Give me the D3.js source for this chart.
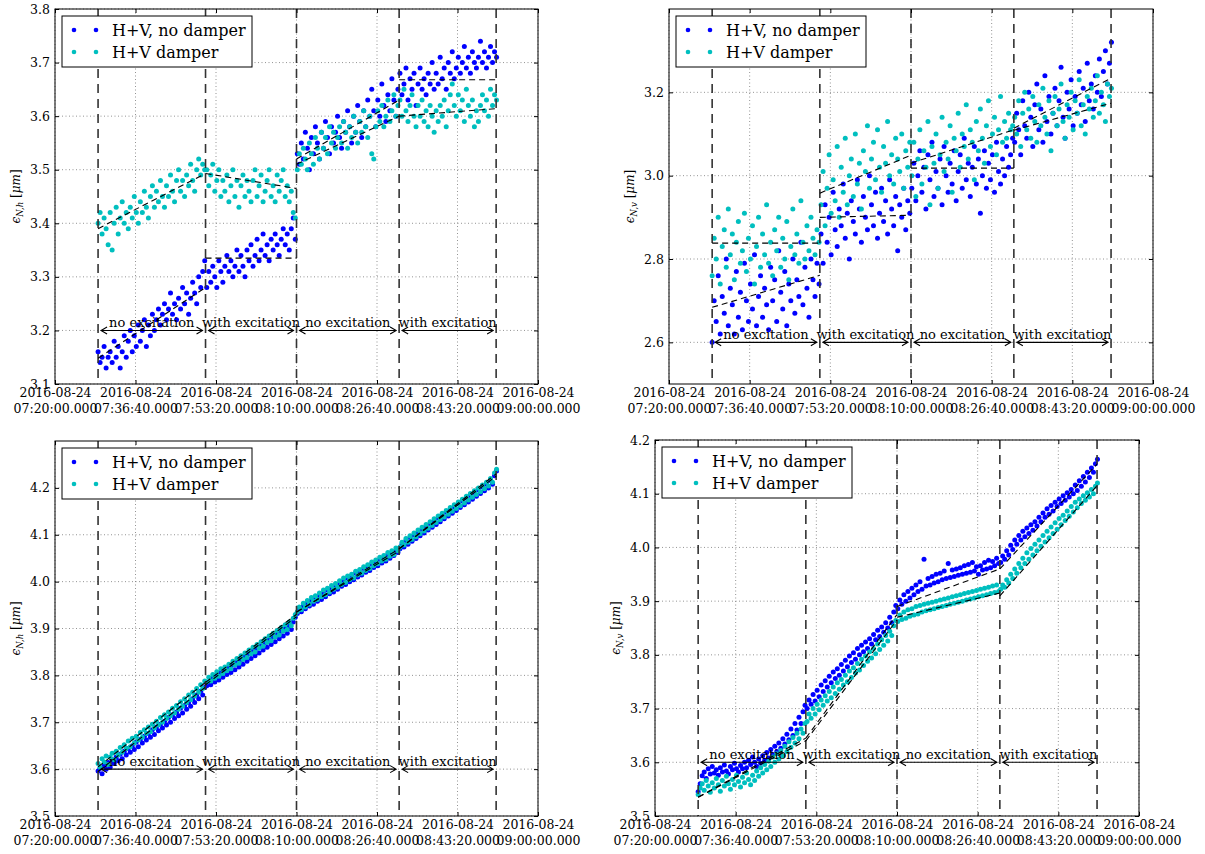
<!DOCTYPE html>
<html>
<head>
<meta charset="utf-8">
<script src="https://cdn.jsdelivr.net/npm/d3@7"></script>
<style>
body { margin: 0; background: #fff; }
svg text { font-family: "DejaVu Serif", serif; fill: #000; }
</style>
</head>
<body>
<svg id="fig" width="1205" height="854"></svg>
<script>
// time axis: seconds after 07:20:00
var startTime = new Date(2016, 7, 24, 7, 20, 0);
var endTime = new Date(2016, 7, 24, 9, 0, 0);
var tickSeconds = [0, 1000, 2000, 3000, 4000, 5000, 6000];
var sampleStart = 535, sampleStep = 25;
var segmentEdges = [535, 1870, 3000, 4275, 5480];
var segmentLabels = ["no excitation", "with excitation", "no excitation", "with excitation"];
var seriesNames = ["H+V, no damper", "H+V damper"];

// top left, emittance N,h
var tlNoDamper = [3.16,3.14,3.15,3.17,3.13,3.15,3.16,3.14,3.18,3.15,3.17,3.13,3.16,3.19,3.15,3.18,3.20,3.16,3.19,3.17,
  3.21,3.18,3.20,3.22,3.17,3.21,3.19,3.23,3.20,3.22,3.24,3.21,3.23,3.25,3.22,3.24,3.27,3.23,3.25,3.22,
  3.26,3.24,3.28,3.25,3.27,3.23,3.26,3.29,3.27,3.25,3.30,3.28,3.31,3.33,
  3.28,3.31,3.29,3.32,3.30,3.28,3.33,3.31,3.29,3.32,3.34,3.31,3.33,3.30,3.32,3.35,3.31,3.34,3.32,3.30,
  3.35,3.33,3.36,3.32,3.34,3.37,3.33,3.35,3.38,3.34,3.36,3.33,3.37,3.35,3.38,3.36,3.34,3.37,3.39,3.36,
  3.38,3.35,3.39,3.41,3.37,
  3.53,3.51,3.55,3.52,3.57,3.54,3.50,3.56,3.53,3.58,3.55,3.52,3.57,3.54,3.59,3.56,3.53,3.58,3.55,3.57,
  3.60,3.56,3.54,3.59,3.57,3.61,3.58,3.55,3.60,3.57,3.62,3.59,3.56,3.61,3.58,3.63,3.60,3.65,3.61,3.58,
  3.63,3.60,3.66,3.62,3.59,3.64,3.61,3.67,3.63,3.60,3.65,
  3.68,3.64,3.66,3.69,3.63,3.67,3.65,3.68,3.62,3.66,3.69,3.65,3.67,3.64,3.68,3.66,3.70,3.65,3.68,3.66,
  3.71,3.67,3.69,3.65,3.70,3.68,3.72,3.67,3.69,3.71,3.68,3.70,3.73,3.69,3.71,3.68,3.72,3.70,3.69,3.71,
  3.74,3.70,3.72,3.69,3.71,3.73,3.70,3.72,3.71];
var tlDamper = [3.40,3.42,3.38,3.41,3.39,3.36,3.42,3.35,3.40,3.43,3.38,3.41,3.44,3.40,3.42,3.39,3.43,3.41,3.45,3.42,
  3.40,3.44,3.42,3.46,3.43,3.41,3.45,3.47,3.43,3.46,3.44,3.48,3.45,3.43,3.47,3.45,3.49,3.46,3.44,3.48,
  3.50,3.46,3.48,3.45,3.49,3.47,3.51,3.48,3.46,3.50,3.52,3.49,3.51,3.50,
  3.50,3.47,3.49,3.51,3.46,3.48,3.50,3.45,3.48,3.46,3.49,3.44,3.47,3.50,3.45,3.48,3.43,3.47,3.49,3.45,
  3.48,3.46,3.44,3.48,3.50,3.45,3.47,3.49,3.44,3.46,3.48,3.50,3.45,3.47,3.44,3.49,3.46,3.48,3.50,3.45,
  3.47,3.44,3.46,3.42,3.41,
  3.50,3.53,3.51,3.54,3.52,3.50,3.55,3.53,3.51,3.56,3.54,3.52,3.57,3.54,3.56,3.53,3.58,3.55,3.57,3.54,
  3.56,3.58,3.55,3.59,3.57,3.54,3.58,3.56,3.60,3.57,3.55,3.59,3.57,3.61,3.58,3.56,3.60,3.53,3.52,3.58,
  3.61,3.59,3.62,3.58,3.60,3.63,3.59,3.61,3.64,3.60,3.62,
  3.63,3.60,3.65,3.61,3.59,3.62,3.64,3.60,3.58,3.62,3.60,3.63,3.59,3.61,3.58,3.62,3.60,3.57,3.61,3.59,
  3.62,3.60,3.63,3.58,3.61,3.64,3.66,3.62,3.60,3.64,3.61,3.63,3.59,3.65,3.62,3.60,3.63,3.58,3.61,3.59,
  3.62,3.64,3.61,3.63,3.60,3.65,3.62,3.64,3.63];
var tlFitNoDamper = [[3.148, 3.28], [3.335, 3.335], [3.52, 3.63], [3.668, 3.668]];
var tlFitDamper = [[3.39, 3.493], [3.493, 3.465], [3.51, 3.60], [3.60, 3.614]];
var tlTicks = [3.1, 3.2, 3.3, 3.4, 3.5, 3.6, 3.7, 3.8];

// top right, emittance N,v
var trNoDamper = [2.60,2.70,2.65,2.76,2.62,2.71,2.67,2.80,2.64,2.73,2.69,2.62,2.77,2.66,2.72,2.63,2.79,2.70,2.65,2.74,
  2.68,2.81,2.64,2.71,2.76,2.66,2.73,2.69,2.63,2.78,2.70,2.75,2.65,2.82,2.72,2.68,2.77,2.64,2.74,2.70,
  2.80,2.67,2.75,2.71,2.84,2.69,2.78,2.73,2.66,2.80,2.75,2.71,2.79,2.74,
  2.86,2.79,2.93,2.84,2.90,2.81,2.96,2.87,2.83,2.92,2.88,2.98,2.85,2.91,2.80,2.94,2.89,2.86,2.99,2.92,
  2.84,2.95,2.90,2.87,3.00,2.93,2.88,2.96,2.85,2.91,2.97,2.89,2.94,2.86,2.99,2.92,2.88,2.95,2.82,2.93,
  2.90,2.97,2.87,2.94,2.91,
  2.97,3.03,2.94,3.00,3.06,2.96,3.02,2.92,3.05,2.99,3.08,2.95,3.01,2.97,3.04,2.93,3.07,3.00,2.96,3.03,
  2.98,3.06,2.94,3.01,3.05,2.97,3.09,2.99,3.03,2.95,3.02,3.07,2.98,3.04,2.91,3.00,3.06,2.97,3.03,2.99,
  3.05,2.96,3.08,3.01,2.98,3.04,3.00,3.07,3.02,3.05,3.09,
  3.08,3.15,3.11,3.05,3.18,3.12,3.09,3.20,3.14,3.07,3.17,3.22,3.11,3.16,3.08,3.24,3.13,3.19,3.10,3.15,
  3.21,3.12,3.18,3.26,3.14,3.09,3.20,3.16,3.23,3.12,3.19,3.15,3.25,3.17,3.21,3.13,3.27,3.18,3.22,3.16,
  3.24,3.20,3.28,3.19,3.25,3.30,3.22,3.27,3.32];
var trDamper = [2.76,2.85,2.80,2.90,2.74,2.83,2.87,2.78,2.92,2.81,2.86,2.75,2.84,2.89,2.79,2.82,2.91,2.77,2.85,2.80,
  2.88,2.74,2.83,2.90,2.78,2.86,2.81,2.93,2.79,2.84,2.76,2.87,2.82,2.90,2.78,2.85,2.80,2.89,2.75,2.83,
  2.92,2.81,2.86,2.79,2.94,2.84,2.80,2.88,2.82,2.90,2.85,2.81,2.87,2.84,
  2.93,3.01,2.88,2.97,3.05,2.91,2.99,2.94,3.07,2.90,3.02,2.96,3.09,2.93,3.00,3.04,2.95,3.10,2.98,3.03,
  2.92,3.06,3.01,3.12,2.97,3.04,3.08,2.99,3.11,3.02,2.96,3.07,3.03,3.13,3.00,3.05,2.98,3.09,3.04,3.01,
  3.10,2.97,3.06,3.02,3.08,
  3.00,3.08,2.95,3.04,3.11,2.98,3.06,3.02,3.13,2.93,3.07,3.03,3.10,2.97,3.05,3.14,3.01,3.08,3.04,3.12,
  2.96,3.09,3.06,3.15,3.02,3.10,3.07,3.17,3.04,3.11,3.08,2.99,3.13,3.06,3.16,3.09,3.03,3.12,3.18,3.07,
  3.10,3.14,3.05,3.11,3.19,3.08,3.13,3.09,3.15,3.11,3.12,
  3.14,3.10,3.18,3.07,3.15,3.20,3.11,3.16,3.09,3.19,3.13,3.08,3.17,3.12,3.21,3.14,3.10,3.18,3.06,3.15,
  3.19,3.12,3.16,3.22,3.13,3.09,3.17,3.14,3.20,3.11,3.18,3.15,3.23,3.12,3.17,3.10,3.19,3.16,3.21,3.14,
  3.18,3.24,3.15,3.20,3.17,3.13,3.22,3.19,3.21];
var trFitNoDamper = [[2.684, 2.761], [2.90, 2.905], [3.018, 3.018], [3.114, 3.234]];
var trFitDamper = [[2.838, 2.838], [2.958, 3.049], [3.03, 3.11], [3.109, 3.174]];
var trTicks = [2.6, 2.8, 3.0, 3.2];

// bottom left, emittance N,h
var blNoDamper = [3.596,3.602,3.590,3.608,3.600,3.614,3.604,3.620,3.612,3.626,3.618,3.632,3.622,3.638,3.630,3.644,3.636,3.650,3.642,3.658,
  3.648,3.664,3.656,3.670,3.662,3.676,3.668,3.684,3.674,3.690,3.682,3.696,3.688,3.702,3.694,3.710,3.700,3.716,3.708,3.722,
  3.714,3.730,3.720,3.736,3.728,3.742,3.734,3.750,3.742,3.758,3.750,3.766,3.758,3.774,
  3.778,3.786,3.780,3.794,3.786,3.800,3.790,3.806,3.796,3.810,3.802,3.816,3.806,3.822,3.812,3.828,3.818,3.834,3.824,3.840,
  3.830,3.846,3.836,3.852,3.842,3.858,3.848,3.864,3.854,3.870,3.860,3.876,3.866,3.882,3.872,3.888,3.878,3.894,3.884,3.900,
  3.890,3.906,3.898,3.914,3.924,
  3.932,3.940,3.936,3.948,3.942,3.954,3.948,3.960,3.952,3.966,3.958,3.970,3.962,3.976,3.968,3.982,3.974,3.986,3.978,3.992,
  3.984,3.996,3.990,4.002,3.994,4.008,4.000,4.012,4.004,4.018,4.010,4.022,4.014,4.028,4.020,4.032,4.024,4.038,4.030,4.042,
  4.034,4.048,4.040,4.052,4.044,4.058,4.050,4.062,4.056,4.066,4.062,
  4.070,4.080,4.074,4.088,4.080,4.094,4.086,4.100,4.092,4.106,4.098,4.112,4.104,4.118,4.110,4.124,4.116,4.130,4.122,4.136,
  4.128,4.142,4.134,4.148,4.140,4.154,4.146,4.160,4.152,4.166,4.158,4.172,4.164,4.178,4.170,4.184,4.176,4.190,4.182,4.196,
  4.188,4.202,4.194,4.208,4.200,4.216,4.208,4.226,4.236];
var blDamper = [3.612,3.604,3.622,3.615,3.628,3.610,3.626,3.634,3.620,3.638,3.630,3.646,3.636,3.652,3.644,3.660,3.648,3.666,3.656,3.670,
  3.662,3.678,3.668,3.684,3.676,3.690,3.680,3.696,3.688,3.702,3.694,3.710,3.700,3.716,3.708,3.722,3.714,3.730,3.720,3.736,
  3.728,3.744,3.734,3.750,3.742,3.758,3.748,3.764,3.756,3.772,3.764,3.780,3.772,3.788,
  3.786,3.796,3.788,3.802,3.794,3.808,3.798,3.814,3.804,3.818,3.810,3.824,3.814,3.830,3.822,3.836,3.826,3.842,3.834,3.848,
  3.838,3.854,3.846,3.860,3.850,3.866,3.858,3.872,3.862,3.878,3.870,3.884,3.874,3.890,3.882,3.896,3.886,3.902,3.894,3.908,
  3.898,3.914,3.906,3.922,3.930,
  3.936,3.946,3.940,3.954,3.946,3.960,3.952,3.966,3.958,3.970,3.962,3.976,3.968,3.982,3.972,3.986,3.978,3.992,3.984,3.996,
  3.988,4.002,3.994,4.008,3.998,4.012,4.004,4.016,4.008,4.022,4.014,4.026,4.018,4.032,4.024,4.036,4.028,4.042,4.034,4.046,
  4.038,4.052,4.044,4.056,4.048,4.062,4.054,4.066,4.058,4.072,4.066,
  4.074,4.084,4.078,4.092,4.084,4.098,4.090,4.104,4.096,4.110,4.102,4.116,4.108,4.122,4.114,4.128,4.120,4.134,4.126,4.140,
  4.132,4.146,4.138,4.152,4.144,4.158,4.150,4.164,4.156,4.170,4.162,4.176,4.168,4.182,4.174,4.188,4.180,4.194,4.186,4.200,
  4.192,4.206,4.198,4.212,4.204,4.220,4.212,4.232,4.240];
var blFitNoDamper = [[3.595, 3.775], [3.78, 3.925], [3.935, 4.065], [4.07, 4.225]];
var blFitDamper = [[3.605, 3.785], [3.785, 3.93], [3.935, 4.07], [4.07, 4.23]];
var blTicks = [3.5, 3.6, 3.7, 3.8, 3.9, 4.0, 4.1, 4.2];

// bottom right, emittance N,v
var brNoDamper = [3.545,3.560,3.575,3.582,3.570,3.588,3.578,3.592,3.580,3.586,3.576,3.590,3.582,3.595,3.584,3.578,3.592,3.586,3.598,3.588,
  3.582,3.594,3.588,3.600,3.590,3.604,3.596,3.610,3.600,3.592,3.606,3.598,3.612,3.604,3.618,3.608,3.624,3.614,3.630,3.620,
  3.636,3.626,3.644,3.634,3.652,3.642,3.662,3.650,3.672,3.660,3.684,3.672,3.694,3.706,
  3.700,3.716,3.708,3.726,3.714,3.734,3.722,3.744,3.732,3.752,3.740,3.760,3.748,3.768,3.756,3.774,3.762,3.782,3.770,3.790,
  3.778,3.798,3.786,3.804,3.792,3.812,3.800,3.818,3.806,3.824,3.812,3.830,3.820,3.838,3.828,3.846,3.834,3.852,3.842,3.860,
  3.850,3.870,3.860,3.880,3.892,
  3.886,3.902,3.894,3.912,3.900,3.918,3.906,3.924,3.912,3.930,3.918,3.936,3.922,3.978,3.928,3.942,3.930,3.946,3.934,3.950,
  3.936,3.952,3.940,3.956,3.942,3.970,3.944,3.958,3.946,3.960,3.948,3.962,3.950,3.966,3.952,3.968,3.954,3.972,3.956,3.964,
  3.950,3.966,3.958,3.972,3.960,3.976,3.962,3.974,3.966,3.980,3.970,
  3.972,3.984,3.978,3.994,3.986,4.004,3.996,4.014,4.006,4.022,4.014,4.030,4.020,4.036,4.026,4.042,4.032,4.048,4.040,4.056,
  4.048,4.064,4.056,4.072,4.062,4.078,4.068,4.084,4.076,4.090,4.082,4.096,4.088,4.102,4.094,4.108,4.100,4.116,4.106,4.124,
  4.114,4.132,4.122,4.140,4.130,4.148,4.140,4.156,4.164];
var brDamper = [3.540,3.552,3.560,3.548,3.566,3.556,3.544,3.562,3.552,3.570,3.558,3.546,3.566,3.556,3.574,3.560,3.550,3.568,3.558,3.576,
  3.564,3.554,3.572,3.562,3.580,3.568,3.558,3.576,3.566,3.584,3.574,3.590,3.580,3.596,3.586,3.602,3.592,3.610,3.600,3.616,
  3.606,3.622,3.612,3.630,3.620,3.638,3.628,3.646,3.636,3.654,3.644,3.662,3.654,3.672,
  3.676,3.690,3.682,3.700,3.690,3.708,3.698,3.716,3.706,3.724,3.714,3.732,3.720,3.740,3.728,3.748,3.736,3.754,3.744,3.762,
  3.750,3.770,3.758,3.776,3.766,3.784,3.772,3.792,3.780,3.798,3.788,3.806,3.794,3.812,3.802,3.820,3.810,3.828,3.818,3.836,
  3.826,3.844,3.836,3.854,3.864,
  3.862,3.874,3.866,3.880,3.868,3.884,3.872,3.886,3.874,3.890,3.876,3.892,3.880,3.894,3.882,3.896,3.884,3.898,3.886,3.900,
  3.888,3.902,3.890,3.904,3.892,3.906,3.894,3.908,3.896,3.910,3.898,3.912,3.900,3.914,3.902,3.916,3.904,3.918,3.906,3.920,
  3.908,3.922,3.910,3.924,3.912,3.926,3.914,3.928,3.916,3.930,3.918,
  3.922,3.930,3.926,3.940,3.934,3.950,3.942,3.960,3.952,3.970,3.962,3.980,3.970,3.990,3.978,3.998,3.986,4.006,3.994,4.014,
  4.002,4.022,4.010,4.030,4.018,4.038,4.026,4.046,4.034,4.054,4.042,4.060,4.050,4.068,4.058,4.076,4.066,4.084,4.074,4.090,
  4.082,4.096,4.088,4.102,4.094,4.108,4.100,4.114,4.120];
var brFitNoDamper = [[3.535, 3.645], [3.645, 3.875], [3.89, 3.96], [3.96, 4.155]];
var brFitDamper = [[3.535, 3.64], [3.64, 3.865], [3.87, 3.915], [3.91, 4.115]];
var brTicks = [3.5, 3.6, 3.7, 3.8, 3.9, 4.0, 4.1, 4.2];

var colors = ["#0000ff", "#00bfbf"];

var panels = [
  {left: 55, top: 9, right: 538, bottom: 384, yDomain: [3.1, 3.8], yTicks: tlTicks, sub: "N,h", arrowAt: 3.2,
   series: [tlNoDamper, tlDamper], fits: [tlFitNoDamper, tlFitDamper]},
  {left: 669, top: 9, right: 1153, bottom: 384, yDomain: [2.5, 3.4], yTicks: trTicks, sub: "N,v", arrowAt: 2.6,
   series: [trNoDamper, trDamper], fits: [trFitNoDamper, trFitDamper]},
  {left: 55, top: 441, right: 538, bottom: 816, yDomain: [3.5, 4.3], yTicks: blTicks, sub: "N,h", arrowAt: 3.6,
   series: [blNoDamper, blDamper], fits: [blFitNoDamper, blFitDamper]},
  {left: 655, top: 440, right: 1139, bottom: 816, yDomain: [3.5, 4.2], yTicks: brTicks, sub: "N,v", arrowAt: 3.6,
   series: [brNoDamper, brDamper], fits: [brFitNoDamper, brFitDamper]}
];

var svg = d3.select("#fig");
var sec = function(s) { return d3.timeSecond.offset(startTime, s); };
var tickDates = tickSeconds.map(sec);
var fmtDay = d3.timeFormat("%Y-%m-%d"), fmtTime = d3.timeFormat("%H:%M:%S.000");

panels.forEach(function(p, pi) {
  var w = p.right - p.left, h = p.bottom - p.top;
  var x = d3.scaleTime().domain([startTime, endTime]).range([0, w]);
  var y = d3.scaleLinear().domain(p.yDomain).range([h, 0]);
  var g = svg.append("g").attr("transform", "translate(" + p.left + "," + p.top + ")");

  g.append("clipPath").attr("id", "clip" + pi)
    .append("rect").attr("width", w).attr("height", h);

  // grid
  var grid = g.append("g").attr("stroke", "#777").attr("stroke-width", 0.8).attr("stroke-dasharray", "1,2.5");
  grid.selectAll("line.gx").data(tickDates).join("line").attr("class", "gx")
    .attr("x1", function(d) { return x(d); }).attr("x2", function(d) { return x(d); })
    .attr("y1", 0).attr("y2", h);
  grid.selectAll("line.gy").data(p.yTicks).join("line").attr("class", "gy")
    .attr("y1", function(d) { return y(d); }).attr("y2", function(d) { return y(d); })
    .attr("x1", 0).attr("x2", w);

  var plot = g.append("g").attr("clip-path", "url(#clip" + pi + ")");

  // points
  p.series.forEach(function(vals, si) {
    plot.append("g").selectAll("circle").data(vals).join("circle")
      .attr("cx", function(d, i) { return x(sec(sampleStart + i * sampleStep)); })
      .attr("cy", function(d) { return y(d); })
      .attr("r", 2.5)
      .attr("fill", colors[si]);
  });

  // segment boundaries
  plot.selectAll("line.edge").data(segmentEdges).join("line").attr("class", "edge")
    .attr("x1", function(d) { return x(sec(d)); }).attr("x2", function(d) { return x(sec(d)); })
    .attr("y1", 0).attr("y2", h)
    .attr("stroke", "#333").attr("stroke-width", 1.6).attr("stroke-dasharray", "9,6");

  // piecewise fits
  p.fits.forEach(function(fit) {
    plot.append("g").selectAll("line").data(fit).join("line")
      .attr("x1", function(d, k) { return x(sec(segmentEdges[k])); })
      .attr("x2", function(d, k) { return x(sec(segmentEdges[k + 1])); })
      .attr("y1", function(d) { return y(d[0]); })
      .attr("y2", function(d) { return y(d[1]); })
      .attr("stroke", "#000").attr("stroke-width", 1.1).attr("stroke-dasharray", "6,4");
  });

  // excitation annotations
  var ya = y(p.arrowAt);
  segmentLabels.forEach(function(lab, k) {
    var x1 = x(sec(segmentEdges[k])) + 3, x2 = x(sec(segmentEdges[k + 1])) - 3;
    g.append("path")
      .attr("d", "M" + x1 + "," + ya + "L" + x2 + "," + ya +
        "M" + (x1 + 6) + "," + (ya - 3.5) + "L" + x1 + "," + ya + "L" + (x1 + 6) + "," + (ya + 3.5) +
        "M" + (x2 - 6) + "," + (ya - 3.5) + "L" + x2 + "," + ya + "L" + (x2 - 6) + "," + (ya + 3.5))
      .attr("fill", "none").attr("stroke", "#000").attr("stroke-width", 1.1);
    g.append("text").attr("x", (x1 + x2) / 2).attr("y", ya - 3)
      .attr("text-anchor", "middle").attr("font-size", 13).text(lab);
  });

  // legend
  var lg = g.append("g").attr("transform", "translate(7,7)");
  lg.append("rect").attr("width", 190).attr("height", 51)
    .attr("fill", "#fff").attr("stroke", "#000").attr("stroke-width", 1);
  seriesNames.forEach(function(name, si) {
    var ry = 14 + si * 22;
    [12, 34].forEach(function(dx) {
      lg.append("circle").attr("cx", dx).attr("cy", ry).attr("r", 2.3).attr("fill", colors[si]);
    });
    lg.append("text").attr("x", 50).attr("y", ry).attr("dy", "0.35em")
      .attr("font-size", 16).text(name);
  });

  // axes: ticks inside on all four sides
  var styleAxis = function(sel) {
    sel.attr("font-family", null).attr("font-size", null);
    sel.select(".domain").remove();
    sel.selectAll(".tick line").attr("stroke", "#000");
  };
  g.append("g").attr("transform", "translate(0," + h + ")")
    .call(d3.axisBottom(x).tickValues(tickDates).tickSize(-4).tickFormat(""))
    .call(styleAxis)
    .selectAll(".tick").each(function(d) {
      var t = d3.select(this).append("text").attr("text-anchor", "middle").attr("font-size", 12.5);
      t.append("tspan").attr("x", 0).attr("y", 13).text(fmtDay(d));
      t.append("tspan").attr("x", 0).attr("y", 28.5).text(fmtTime(d));
    });
  g.append("g").call(d3.axisTop(x).tickValues(tickDates).tickSize(-4).tickFormat("")).call(styleAxis);
  g.append("g")
    .call(d3.axisLeft(y).tickValues(p.yTicks).tickSize(-4).tickPadding(5).tickFormat(d3.format(".1f")))
    .call(styleAxis)
    .selectAll("text").attr("font-size", 12.5);
  g.append("g").attr("transform", "translate(" + w + ",0)")
    .call(d3.axisRight(y).tickValues(p.yTicks).tickSize(-4).tickFormat("")).call(styleAxis);

  g.append("rect").attr("width", w).attr("height", h)
    .attr("fill", "none").attr("stroke", "#000").attr("stroke-width", 1);

  // y label
  var yl = g.append("text").attr("transform", "translate(-35," + (h / 2) + ") rotate(-90)")
    .attr("text-anchor", "middle").attr("font-size", 12);
  yl.append("tspan").attr("font-style", "italic").text("\u03f5");
  yl.append("tspan").attr("font-size", 8.5).attr("font-style", "italic").attr("dy", 3).text(p.sub);
  yl.append("tspan").attr("dy", -3).text(" [");
  yl.append("tspan").attr("font-style", "italic").text("\u03bcm");
  yl.append("tspan").text("]");
});
</script>
</body>
</html>
